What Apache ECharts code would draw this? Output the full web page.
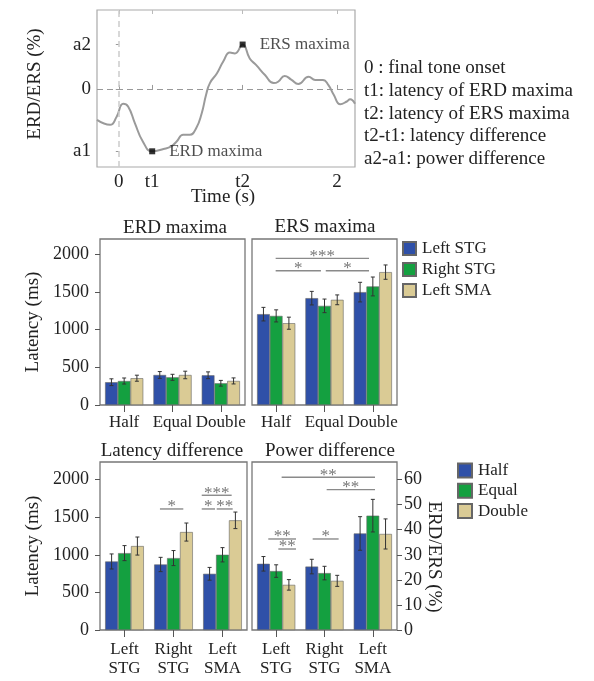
<!DOCTYPE html>
<html><head><meta charset="utf-8">
<script src="https://cdn.jsdelivr.net/npm/echarts@6/dist/echarts.min.js"></script>
<style>html,body{margin:0;padding:0;background:#fff}#c{width:594px;height:681px}</style>
</head><body><div id="c"></div>
<script>
const FONT = '"Liberation Serif", "DejaVu Serif", serif';

// ---- top panel (schematic ERD/ERS time course) ----
const curveTime  = [-0.2,-0.08,-0.02,0.04,0.085,0.147,0.22,0.306,0.41,0.48,0.53,0.59,0.65,0.71,0.76,0.80,0.835,0.90,0.957,1.018,1.064,1.135,1.20,1.26,1.34,1.42,1.46,1.52,1.58,1.645,1.74,1.80,1.87,1.92,1.97,2.03,2.09,2.12,2.165];
const curveValue = [-0.69,-0.8,-0.62,-0.33,-0.39,-0.76,-1.17,-1.39,-1.34,-1.28,-1.17,-1.02,-1.02,-0.87,-0.54,-0.13,0.13,0.35,0.61,0.81,0.79,0.99,0.68,0.53,0.31,0.13,0.16,0.29,0.21,0.11,0.27,0.2,0.2,0.09,-0.13,-0.34,-0.28,-0.23,-0.33];
const peakTime   = [0.306, 1.135];
const peakValue  = [-1.39, 0.99];
const peakLabels = ['ERD maxima', 'ERS maxima'];
const topXTicks = [0, 0.306, 1.135, 2];
const topXTickLabels = ['0', 't1', 't2', '2'];
const topYTicks = [-1.39, 0, 0.99];
const topYTickLabels = ['a1', '0', 'a2'];
const notes = ['0 : final tone onset', 't1: latency of ERD maxima', 't2: latency of ERS maxima', 't2-t1: latency difference', 'a2-a1: power difference'];

// ---- middle panels ----
const conditions = ['Half', 'Equal', 'Double'];
const regionNames = ['Left STG', 'Right STG', 'Left SMA'];
const latencyTicks = [0, 500, 1000, 1500, 2000];
const erdLeftSTG = [302, 398, 394],  erdLeftSTGErr = [45, 45, 45];
const erdRightSTG = [318, 367, 288], erdRightSTGErr = [40, 40, 38];
const erdLeftSMA = [355, 398, 319],  erdLeftSMAErr = [40, 50, 40];
const ersLeftSTG = [1204, 1416, 1496], ersLeftSTGErr = [90, 90, 130];
const ersRightSTG = [1181, 1314, 1571], ersRightSTGErr = [80, 90, 125];
const ersLeftSMA = [1084, 1394, 1761], ersLeftSMAErr = [80, 65, 95];
// significance: [fromCat, fromOffset(bars), toCat, toOffset(bars), y]
const ersSig = [[0,-0.04,2,-0.3,1943],[0,-0.04,1,-0.28,1779],[1,0.1,2,-0.3,1779]];
const ersSigLabels = ['***', '*', '*'];

// ---- bottom panels ----
const regionLabels = ['Left\nSTG', 'Right\nSTG', 'Left\nSMA'];
const latHalf = [911, 871, 747],    latHalfErr = [100, 95, 85];
const latEqual = [1022, 956, 1000], latEqualErr = [100, 100, 95];
const latDouble = [1116, 1302, 1458], latDoubleErr = [120, 120, 110];
const latSig = [[1,-1.05,1,0.76,1609],[2,-1.61,2,0.71,1791],[2,-1.61,2,-0.58,1609],[2,-0.45,2,0.79,1609]];
const latSigLabels = ['*', '***', '*', '**'];
const powHalf = [26.4, 25.3, 38.5],  powHalfErr = [2.9, 2.9, 6.7];
const powEqual = [23.5, 22.7, 45.6], powEqualErr = [2.5, 2.7, 6.5];
const powDouble = [18.0, 19.6, 38.3], powDoubleErr = [2.1, 2.2, 6.0];
const powTicks = [0, 10, 20, 30, 40, 50, 60];
const powSig = [[0,0.43,2,0.17,60.9],[1,0.17,2,0.17,56],[0,-0.62,0,1.56,36.3],[0,0.17,0,1.56,32.3],[1,-0.93,1,1.11,36.3]];
const powSigLabels = ['**', '**', '**', '**', '*'];

const COLORS = ['#2f50a8', '#14a040', '#dacb95'];
const GAP = 0.21;
const LAT_MAX_BOTTOM = 2233.3, POW_MAX = 67;

function lookup(ticks, labels, v) {
  const i = ticks.findIndex(t => Math.abs(t - v) < 1e-6);
  return i >= 0 ? labels[i] : '';
}

const catAxisBase = (grid, cats, margin, lh) => ({
  type: 'category', gridIndex: grid, data: cats,
  axisLine: { show: false },
  axisTick: { show: true, alignWithLabel: true, length: 7, lineStyle: { color: '#555', width: 1 } },
  axisLabel: { margin: margin, fontFamily: FONT, fontSize: 17, color: '#222', lineHeight: lh, interval: 0 }
});
const latAxis = (grid, max, showLabels) => ({
  type: 'value', gridIndex: grid, min: 0, max: max,
  axisLine: { show: false }, splitLine: { show: false },
  axisTick: { show: showLabels, length: 5, customValues: latencyTicks, lineStyle: { color: '#555' } },
  axisLabel: { show: showLabels, customValues: latencyTicks, formatter: v => String(v), margin: 11, fontFamily: FONT, fontSize: 18, color: '#222' }
});

function barSeries(name, data, xi, yi) {
  const idx = ['Left STG','Right STG','Left SMA','Half','Equal','Double'].indexOf(name) % 3;
  return {
    type: 'bar', name: name, data: data, xAxisIndex: xi, yAxisIndex: yi,
    barGap: '0%', barCategoryGap: (GAP * 100) + '%',
    itemStyle: { color: COLORS[idx], borderColor: '#666', borderWidth: 0.6 },
    emphasis: { disabled: true }, silent: true, z: 2
  };
}
function errSeries(pos, values, errs, xi, yi) {
  return {
    type: 'custom', name: 'err' + xi + '_' + pos, xAxisIndex: xi, yAxisIndex: yi,
    data: values.map((v, i) => [i, v, errs[i]]),
    encode: { x: 0, y: 1 }, silent: true, z: 5,
    renderItem: function (params, api) {
      const band = api.size([1, 0])[0];
      const bw = band * (1 - GAP) / 3;
      const c = api.coord([api.value(0), api.value(1)]);
      const hi = api.coord([api.value(0), api.value(1) + api.value(2)]);
      const lo = api.coord([api.value(0), api.value(1) - api.value(2)]);
      const x = c[0] + (pos - 1) * bw;
      const st = { stroke: '#333', lineWidth: 1 };
      return { type: 'group', children: [
        { type: 'line', shape: { x1: x, y1: hi[1], x2: x, y2: lo[1] }, style: st },
        { type: 'line', shape: { x1: x - 2, y1: hi[1], x2: x + 2, y2: hi[1] }, style: st },
        { type: 'line', shape: { x1: x - 2, y1: lo[1], x2: x + 2, y2: lo[1] }, style: st }
      ] };
    }
  };
}
function sigSeries(sig, labels, xi, yi) {
  return {
    type: 'custom', name: 'sig' + xi, xAxisIndex: xi, yAxisIndex: yi,
    data: sig, encode: { x: 0, y: 4 }, silent: true, z: 6,
    renderItem: function (params, api) {
      const band = api.size([1, 0])[0];
      const bw = band * (1 - GAP) / 3;
      const p1 = api.coord([api.value(0), api.value(4)]);
      const p2 = api.coord([api.value(2), api.value(4)]);
      const x1 = p1[0] + api.value(1) * bw, x2 = p2[0] + api.value(3) * bw, y = p1[1];
      return { type: 'group', children: [
        { type: 'line', shape: { x1: x1, y1: y, x2: x2, y2: y }, style: { stroke: '#8a8a8a', lineWidth: 1.4 } },
        { type: 'text', style: { text: labels[params.dataIndex], x: (x1 + x2) / 2, y: y - 2, align: 'center', verticalAlign: 'middle', fill: '#777', font: '17px ' + FONT } }
      ] };
    }
  };
}

const gridBox = { show: true, borderColor: '#777', borderWidth: 1.3, backgroundColor: 'transparent' };

const option = {
  animation: false,
  backgroundColor: '#fff',
  grid: [
    { left: 97, top: 10, width: 258, height: 157, show: true, borderColor: '#aaa', borderWidth: 1.2 },
    Object.assign({ left: 100, top: 239, width: 145, height: 166 }, gridBox),
    Object.assign({ left: 252, top: 239, width: 145, height: 166 }, gridBox),
    Object.assign({ left: 100, top: 462, width: 147, height: 168 }, gridBox),
    Object.assign({ left: 252, top: 462, width: 145, height: 168 }, gridBox)
  ],
  xAxis: [
    { type: 'value', gridIndex: 0, min: -0.2, max: 2.165, axisLine: { show: false }, splitLine: { show: false },
      axisTick: { show: true, inside: true, length: 4, customValues: topXTicks, lineStyle: { color: '#999' } },
      axisLabel: { customValues: topXTicks, formatter: v => lookup(topXTicks, topXTickLabels, v), margin: 6, fontFamily: FONT, fontSize: 19, color: '#222' } },
    { type: 'value', gridIndex: 0, position: 'top', min: -0.2, max: 2.165, axisLine: { show: false }, splitLine: { show: false },
      axisTick: { show: true, inside: true, length: 4, customValues: topXTicks, lineStyle: { color: '#bbb' } },
      axisLabel: { show: false } },
    catAxisBase(1, conditions, 9),
    catAxisBase(2, conditions, 9),
    catAxisBase(3, regionLabels, 10, 19),
    catAxisBase(4, regionLabels, 10, 19)
  ],
  yAxis: [
    { type: 'value', gridIndex: 0, min: -1.74, max: 1.76, axisLine: { show: false }, splitLine: { show: false },
      axisTick: { show: true, length: 3, customValues: topYTicks, lineStyle: { color: '#999' } },
      axisLabel: { customValues: topYTicks, formatter: v => lookup(topYTicks, topYTickLabels, v), margin: 6, fontFamily: FONT, fontSize: 19, color: '#222' } },
    latAxis(1, 2200, true),
    latAxis(2, 2200, false),
    latAxis(3, LAT_MAX_BOTTOM, true),
    { type: 'value', gridIndex: 4, position: 'right', min: 0, max: POW_MAX,
      axisLine: { show: false }, splitLine: { show: false },
      axisTick: { show: true, length: 5, customValues: powTicks, lineStyle: { color: '#555' } },
      axisLabel: { customValues: powTicks, formatter: v => String(v), margin: 7, fontFamily: FONT, fontSize: 18, color: '#222' } }
  ],
  legend: [
    { data: regionNames, orient: 'vertical', left: 402, top: 240, itemWidth: 13, itemHeight: 13, itemGap: 4,
      icon: 'rect', selectedMode: false, padding: 0,
      textStyle: { fontFamily: FONT, fontSize: 17, color: '#222', padding: [0, 0, 0, 1] } },
    { data: conditions, orient: 'vertical', left: 457, top: 462, itemWidth: 14, itemHeight: 14, itemGap: 3.3,
      icon: 'rect', selectedMode: false, padding: 0,
      textStyle: { fontFamily: FONT, fontSize: 17, color: '#222', padding: [0, 0, 0, 1] } }
  ],
  graphic: [
    ...notes.map((t, i) => ({ type: 'text', left: 364, top: 59 + i * 22.6,
      style: { text: t, font: '19px ' + FONT, fill: '#222' } })),
    { type: 'text', x: 35, y: 84, rotation: Math.PI / 2, style: { text: 'ERD/ERS (%)', font: '19px ' + FONT, fill: '#222', align: 'center', verticalAlign: 'middle' } },
    { type: 'text', x: 223, y: 197, style: { text: 'Time (s)', font: '19px ' + FONT, fill: '#222', align: 'center', verticalAlign: 'middle' } },
    { type: 'text', x: 175, y: 228, style: { text: 'ERD maxima', font: '19px ' + FONT, fill: '#222', align: 'center', verticalAlign: 'middle' } },
    { type: 'text', x: 325, y: 227, style: { text: 'ERS maxima', font: '19px ' + FONT, fill: '#222', align: 'center', verticalAlign: 'middle' } },
    { type: 'text', x: 172, y: 451, style: { text: 'Latency difference', font: '19px ' + FONT, fill: '#222', align: 'center', verticalAlign: 'middle' } },
    { type: 'text', x: 330, y: 451, style: { text: 'Power difference', font: '19px ' + FONT, fill: '#222', align: 'center', verticalAlign: 'middle' } },
    { type: 'text', x: 33, y: 322, rotation: Math.PI / 2, style: { text: 'Latency (ms)', font: '19px ' + FONT, fill: '#222', align: 'center', verticalAlign: 'middle' } },
    { type: 'text', x: 33, y: 546, rotation: Math.PI / 2, style: { text: 'Latency (ms)', font: '19px ' + FONT, fill: '#222', align: 'center', verticalAlign: 'middle' } },
    { type: 'text', x: 434, y: 557, rotation: -Math.PI / 2, style: { text: 'ERD/ERS (%)', font: '19px ' + FONT, fill: '#222', align: 'center', verticalAlign: 'middle' } }
  ],
  series: [
    { type: 'line', xAxisIndex: 0, yAxisIndex: 0, data: curveTime.map((t, i) => [t, curveValue[i]]),
      smooth: 0.5, symbol: 'none', silent: true, lineStyle: { color: '#9a9a9a', width: 2 }, z: 3,
      markLine: { silent: true, symbol: 'none', label: { show: false },
        data: [ { yAxis: 0, lineStyle: { color: '#999', type: [6, 4], width: 1.2 } },
                { xAxis: 0, lineStyle: { color: '#ccc', type: [6, 4], width: 1.5 } } ] } },
    { type: 'scatter', xAxisIndex: 0, yAxisIndex: 0, data: peakTime.map((t, i) => [t, peakValue[i]]),
      symbol: 'rect', symbolSize: 6, itemStyle: { color: '#000' }, silent: true, z: 4,
      label: { show: true, position: 'right', distance: 14, formatter: p => peakLabels[p.dataIndex],
        fontFamily: FONT, fontSize: 17, color: '#222' } },

    barSeries('Left STG', erdLeftSTG, 2, 1), barSeries('Right STG', erdRightSTG, 2, 1), barSeries('Left SMA', erdLeftSMA, 2, 1),
    errSeries(0, erdLeftSTG, erdLeftSTGErr, 2, 1), errSeries(1, erdRightSTG, erdRightSTGErr, 2, 1), errSeries(2, erdLeftSMA, erdLeftSMAErr, 2, 1),

    barSeries('Left STG', ersLeftSTG, 3, 2), barSeries('Right STG', ersRightSTG, 3, 2), barSeries('Left SMA', ersLeftSMA, 3, 2),
    errSeries(0, ersLeftSTG, ersLeftSTGErr, 3, 2), errSeries(1, ersRightSTG, ersRightSTGErr, 3, 2), errSeries(2, ersLeftSMA, ersLeftSMAErr, 3, 2),
    sigSeries(ersSig, ersSigLabels, 3, 2),

    barSeries('Half', latHalf, 4, 3), barSeries('Equal', latEqual, 4, 3), barSeries('Double', latDouble, 4, 3),
    errSeries(0, latHalf, latHalfErr, 4, 3), errSeries(1, latEqual, latEqualErr, 4, 3), errSeries(2, latDouble, latDoubleErr, 4, 3),
    sigSeries(latSig, latSigLabels, 4, 3),

    barSeries('Half', powHalf, 5, 4), barSeries('Equal', powEqual, 5, 4), barSeries('Double', powDouble, 5, 4),
    errSeries(0, powHalf, powHalfErr, 5, 4), errSeries(1, powEqual, powEqualErr, 5, 4), errSeries(2, powDouble, powDoubleErr, 5, 4),
    sigSeries(powSig, powSigLabels, 5, 4)
  ]
};

const chart = echarts.init(document.getElementById('c'), null, { renderer: 'canvas' });
chart.setOption(option);
</script>
</body></html>
